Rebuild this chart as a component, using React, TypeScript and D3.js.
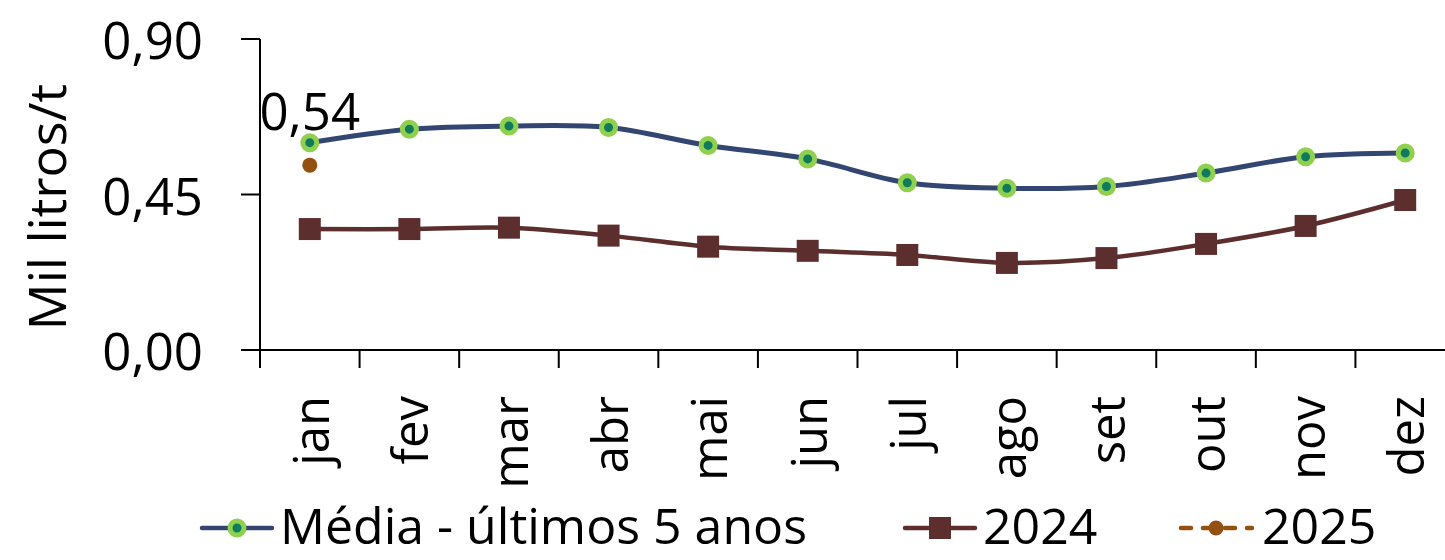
import React from "react";
import * as d3 from "d3";

const months = ["jan", "fev", "mar", "abr", "mai", "jun", "jul", "ago", "set", "out", "nov", "dez"];
const media5 = [0.600, 0.639, 0.648, 0.644, 0.592, 0.553, 0.484, 0.468, 0.473, 0.512, 0.559, 0.570];
const s2024 = [0.350, 0.350, 0.354, 0.331, 0.299, 0.287, 0.275, 0.252, 0.266, 0.307, 0.359, 0.434];
const s2025 = [0.535];
const yTicks = [0, 0.45, 0.9];
const seriesNames = ["Média - últimos 5 anos", "2024", "2025"];

const W = 1445;
const H = 560;
const FONT = "'Open Sans', sans-serif";
const C_MEDIA = "#334671";
const C_MEDIA_MK = "#8fd14f";
const C_MEDIA_IN = "#0f7a5c";
const C_2024 = "#5c2f2e";
const C_2025 = "#93500f";
const LEG_BASE = 544;
const LEG_MID = LEG_BASE - 16;

const fmt = (v: number) => v.toFixed(2).replace(".", ",");

export default function App() {
  const x = d3.scaleBand<string>().domain(months).range([260, 1455]);
  const y = d3.scaleLinear().domain([0, 0.9]).range([350, 39]);
  const cx = (m: string) => (x(m) as number) + x.bandwidth() / 2;

  const lineGen = d3
    .line<number>()
    .x((_, i) => cx(months[i]))
    .y((d) => y(d))
    .curve(d3.curveCatmullRom.alpha(0.5));

  const boundaries = months.map((m) => x(m) as number).concat([(x(months[11]) as number) + x.bandwidth()]);

  return (
    <svg width={W} height={H} style={{ position: "absolute", left: 0, top: 0, background: "#fff" }} fontFamily={FONT}>
      <rect x={0} y={0} width={W} height={H} fill="#fff" />
      {/* y axis */}
      <line x1={260} x2={260} y1={y(0.9)} y2={y(0)} stroke="#000" strokeWidth={2} />
      {yTicks.map((t) => (
        <g key={t}>
          <line x1={241} x2={260} y1={y(t)} y2={y(t)} stroke="#000" strokeWidth={2} />
          <text x={203} y={y(t)} textAnchor="end" dominantBaseline="central" fontSize={51} fill="#000">
            {fmt(t)}
          </text>
        </g>
      ))}
      <text
        transform={`translate(45,${207}) rotate(-90)`}
        textAnchor="middle"
        dominantBaseline="central"
        fontSize={52}
        fill="#000"
      >
        Mil litros/t
      </text>
      {/* x axis */}
      <line x1={241} x2={W} y1={y(0)} y2={y(0)} stroke="#000" strokeWidth={2} />
      {boundaries.map((b, i) => (
        <line key={i} x1={b} x2={b} y1={y(0)} y2={368} stroke="#000" strokeWidth={2} />
      ))}
      {months.map((m) => (
        <text
          key={m}
          transform={`translate(${cx(m)},396) rotate(-90)`}
          textAnchor="end"
          dominantBaseline="central"
          fontSize={49}
          fill="#000"
        >
          {m}
        </text>
      ))}
      {/* 2024 series */}
      <path d={lineGen(s2024) || ""} fill="none" stroke={C_2024} strokeWidth={4.5} />
      {s2024.map((v, i) => (
        <rect key={i} x={cx(months[i]) - 11} y={y(v) - 11} width={22} height={22} fill={C_2024} />
      ))}
      {/* media series */}
      <path d={lineGen(media5) || ""} fill="none" stroke={C_MEDIA} strokeWidth={5} />
      {media5.map((v, i) => (
        <circle key={i} cx={cx(months[i])} cy={y(v)} r={7} fill={C_MEDIA_IN} stroke={C_MEDIA_MK} strokeWidth={5} />
      ))}
      {/* 2025 series */}
      {s2025.map((v, i) => (
        <g key={i}>
          <circle cx={cx(months[i])} cy={y(v)} r={7.5} fill={C_2025} />
          <text x={cx(months[i])} y={y(v) - 35} textAnchor="middle" fontSize={51} fill="#000">
            {fmt(v)}
          </text>
        </g>
      ))}
      {/* legend */}
      <g>
        <line x1={202} x2={272} y1={LEG_MID} y2={LEG_MID} stroke={C_MEDIA} strokeWidth={4.5} strokeLinecap="round" />
        <circle cx={237} cy={LEG_MID} r={7} fill={C_MEDIA_IN} stroke={C_MEDIA_MK} strokeWidth={5} />
        <text x={280} y={LEG_BASE} fontSize={50} fill="#000">
          {seriesNames[0]}
        </text>
        <line x1={905} x2={975} y1={LEG_MID} y2={LEG_MID} stroke={C_2024} strokeWidth={4.5} strokeLinecap="round" />
        <rect x={929} y={LEG_MID - 11} width={22} height={22} fill={C_2024} />
        <text x={983} y={LEG_BASE} fontSize={50} fill="#000">
          {seriesNames[1]}
        </text>
        <line x1={1181} x2={1252} y1={LEG_MID} y2={LEG_MID} stroke={C_2025} strokeWidth={4.5} strokeLinecap="round" strokeDasharray="10 12" />
        <circle cx={1216} cy={LEG_MID} r={7.5} fill={C_2025} />
        <text x={1262} y={LEG_BASE} fontSize={50} fill="#000">
          {seriesNames[2]}
        </text>
      </g>
    </svg>
  );
}
